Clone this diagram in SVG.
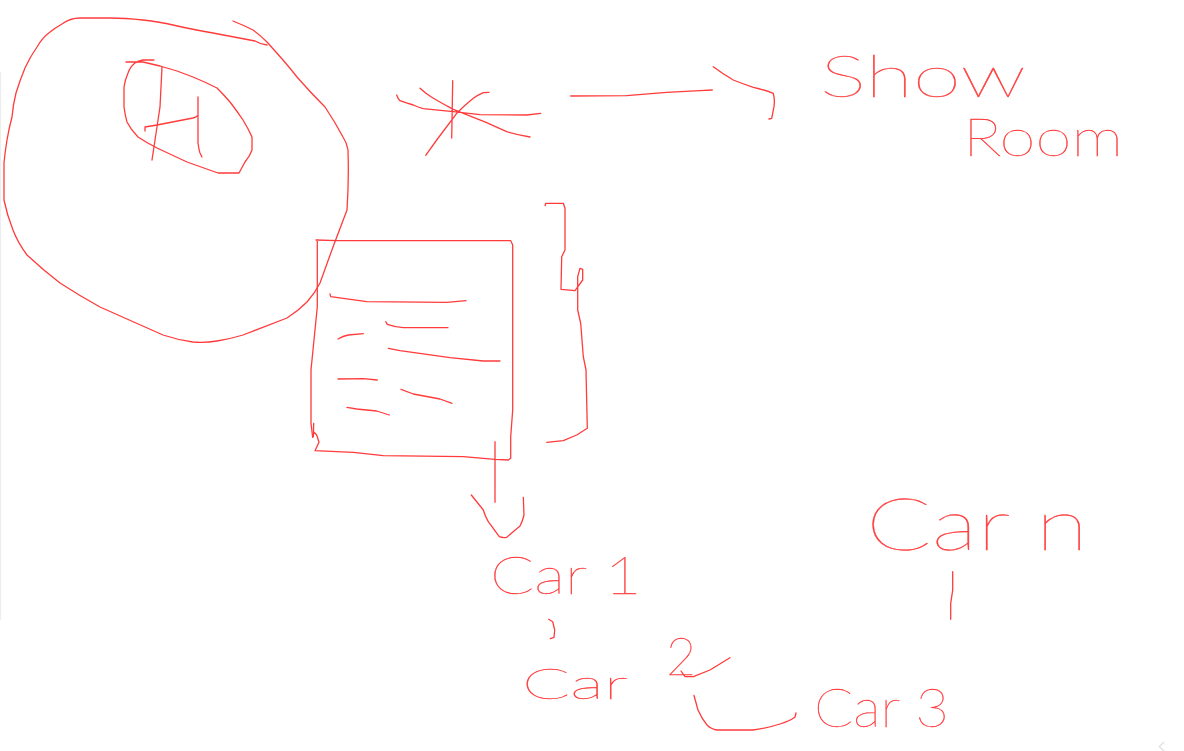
<svg xmlns="http://www.w3.org/2000/svg" width="1184" height="751" viewBox="0 0 1184 751">
<style>
.s{fill:none;stroke:#ff3b3b;stroke-width:1.3;stroke-linejoin:round;stroke-linecap:round}
.t{fill:#ff3b3b;stroke:#ff3b3b;stroke-width:.35;font-family:"Lato","Liberation Sans",sans-serif;font-weight:100}
</style>
<rect width="1184" height="751" fill="#fff"/>
<rect x="0" y="72" width="1.2" height="548" fill="#eee"/>
<path d="M1164 742L1159.300 746.700L1164 751" fill="none" stroke="#ddd" stroke-width="1.200"/>
<g id="big-circle"><path class="s" d="M267 45Q260 44 255 41L213 33Q190 29 173 25Q160 22 143 20Q125 18 110 18L80 18Q70 18 62 24Q55 28 50 32Q42 38 37 47Q30 57 25 68Q20 80 16 93Q13 105 12 117Q9 128 7 140Q5 152 4 163L4 200Q7 215 13 230Q18 243 27 255Q43 270 60 283Q80 296 100 307L163 335Q178 340 193 342Q205 343 217 341Q230 339 243 335L287 318Q298 311 307 302Q315 293 320 283L333 247L347 210Q349 180 348 150Q347 143 343 137Q335 122 325 107Q310 92 297 77Q290 68 283 60L267 42Q260 35 253 30Q243 25 233 21"/></g>
<g id="inner-ellipse"><path class="s" d="M154 60L143 60Q138 61 135 63Q130 67 128 73Q125 80 124 87L124 107Q125 115 127 122Q131 130 138 137Q147 143 157 148L187 162L218 173L239 173L245 162Q250 156 252 150L252 137Q248 128 243 120Q237 111 230 102Q224 95 217 88Q205 82 193 77Q185 74 177 71L160 66L143 62L126 62"/></g>
<g id="inner-mark"><path class="s" d="M162 67L160 107L155 140L152 160M198 97L198 115Q197 117 193 118L157 125L145 127L145 131M198 115L198 143Q199 150 200 153L202 157"/></g>
<g id="star"><path class="s" d="M452.700 80.700L451.700 138M396.700 95Q398 99 400 100.700Q406 103 413.300 105Q418 107 423.300 108.700Q438 110 453.300 111.700L480 114.700L526.700 115L540.700 113.300M420 88.300Q426 94 433.300 98.300Q443 104 453.300 109.300L486.700 122.700Q496 127 506.700 131.700Q518 135 530 137M425.700 155.300L436.700 140L456.700 113.300Q465 105 473.300 98.300Q478 95 483.300 92.700L489 92.300"/></g>
<g id="connectors">
<path class="s" d="M570.700 96L626.700 95.700L666.700 92.300L700 90.700L712.300 90M713.300 66.700Q723 74 733.300 80Q743 84 753.300 87.300Q765 90 773.300 93.300Q775 100 774 106.700L771.700 118.300L769 119"/>
<path class="s" d="M495 441.700L495 502.300M471.300 495L483.300 510Q485 516 488.300 521.700L499.300 536.700Q503 538 506.700 537.300L520 526Q523 520 524 515L523.300 497.300"/>
<path class="s" d="M694 695.500L698 710Q702 719 707 725Q711 729 717 730L753 730Q768 728 780 724Q790 721 795 717L796 713"/>
</g>
<g id="document">
<path class="s" d="M316 240L336.700 240.700L510.700 240.700L512.700 245L512.700 410L510.700 436.700L510.700 458.300L508.300 460L495 459.300L463.300 456.700L383.300 455.700L353.300 452.300L315 450.700L319 442.300L316.700 435L314 432.300L312.700 437.300L311 423.300L311 370L317.300 306.700L317.300 240"/>
<path class="s" d="M313.700 423.300L313.300 436.700"/>
<path class="s" d="M330 294L330.700 296.700L366.700 301.700L446.700 302.300L466 300.700M385.700 321.700L387.300 324.300Q395 327 403.300 327.700L448 327.700M338 339Q343 336 348.300 335L363.300 333.700M388.300 348.300L400 350.700L450 357.700L483.300 361L500 361M338 379L363.300 378.700L377.300 380M401 389.300L413.300 394L440 399L452 403.300M347 407.300L356.700 409L376.700 411L389.300 415"/>
</g>
<g id="bracket"><path class="s" d="M545 205.700L545.700 203.300L563.300 203.300L565 208.300L565 250L561.700 256.700L561 289.300L575 290.700L582.700 280L582.700 269.300L580 268.300L577.700 276.700L577.700 310L580.700 323.300L583.300 356.700L586 370L587.300 428.300L576.700 435L563.300 440.700L546.700 442.300"/></g>
<g id="marks"><path class="s" d="M548.700 619.300L552.700 621.700L554.700 630L554 637.300L550.300 638.700"/>
<path class="s" d="M681 671L685 676.700L693.300 676.700L710 670L730 657.700"/>
<path class="s" d="M952.700 571.700L952.700 590L950.700 603.300L950.700 619.300"/></g>
<g id="labels">
<text class="t" x="820" y="97" font-size="58" textLength="206" lengthAdjust="spacingAndGlyphs">Show</text>
<text class="t" x="963" y="156" font-size="52" textLength="160" lengthAdjust="spacingAndGlyphs">Room</text>
<text class="t" x="490" y="594" font-size="52" textLength="152" lengthAdjust="spacingAndGlyphs">Car 1</text>
<text class="t" x="522" y="699" font-size="42" textLength="106" lengthAdjust="spacingAndGlyphs">Car</text>
<text class="t" x="666" y="675" font-size="52">2</text>
<text class="t" x="814" y="727" font-size="54" textLength="135" lengthAdjust="spacingAndGlyphs">Car 3</text>
<text class="t" x="866" y="550" font-size="72" textLength="222" lengthAdjust="spacingAndGlyphs">Car n</text>
</g>
</svg>
